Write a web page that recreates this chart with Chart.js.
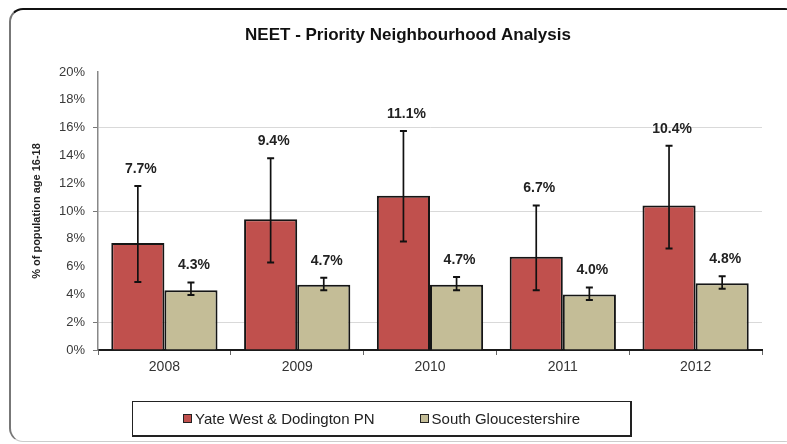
<!DOCTYPE html>
<html>
<head>
<meta charset="utf-8">
<script src="https://cdn.jsdelivr.net/npm/chart.js@4"></script>
<style>
  body { margin: 0; background: #fff; font-family: "Liberation Sans", Arial, sans-serif; }
  #wrap { position: relative; width: 787px; height: 444px; overflow: hidden; }
  #frame {
    position: absolute; left: 9px; top: 8px; width: 790px; height: 434px;
    border-top: 2px solid #111; border-left: 2px solid #777;
    border-bottom: 1px solid #ccc; border-radius: 14px; box-sizing: border-box;
  }
  #chart { position: absolute; left: 0; top: 0; }
  #legend {
    position: absolute; left: 132px; top: 401px; width: 500px; height: 36px;
    box-sizing: border-box; border: 1px solid #222; border-right-width: 2px; border-bottom-width: 2px;
    display: flex; justify-content: center; align-items: center; gap: 45px;
    font-size: 15px; color: #222;
  }
  .item { display: flex; align-items: center; }
  .swatch { width: 7px; height: 7px; border: 1px solid #222; margin-right: 3px; }
</style>
</head>
<body>
<div id="wrap">
  <div id="frame"></div>
  <canvas id="chart" width="787" height="444"></canvas>
  <div id="legend"></div>
</div>
<script>
const categories = ["2008", "2009", "2010", "2011", "2012"];
const seriesNames = ["Yate West & Dodington PN", "South Gloucestershire"];

const yateValues = [7.7, 9.4, 11.1, 6.7, 10.4];
const yateLower = [4.9, 6.3, 7.8, 4.3, 7.3];
const yateUpper = [11.8, 13.8, 15.75, 10.4, 14.7];

const southValues = [4.3, 4.7, 4.7, 4.0, 4.8];
const southLower = [3.95, 4.3, 4.3, 3.6, 4.4];
const southUpper = [4.85, 5.2, 5.25, 4.5, 5.3];

const yMin = 0;
const yMax = 20;
const yStep = 2;

// confidence intervals per dataset index
const lowerBounds = [yateLower, southLower];
const upperBounds = [yateUpper, southUpper];

const errorBars = {
  id: "errorBars",
  afterDatasetsDraw(chart) {
    const ctx = chart.ctx;
    const y = chart.scales.y;
    ctx.save();
    chart.data.datasets.forEach((ds, i) => {
      const meta = chart.getDatasetMeta(i);
      meta.data.forEach((bar, j) => {
        const top = y.getPixelForValue(upperBounds[i][j]);
        const bottom = y.getPixelForValue(lowerBounds[i][j]);
        ctx.strokeStyle = "#111";
        ctx.lineWidth = 1.7;
        ctx.beginPath();
        ctx.moveTo(bar.x, top);
        ctx.lineTo(bar.x, bottom);
        ctx.stroke();
        ctx.lineWidth = 2;
        ctx.beginPath();
        ctx.moveTo(bar.x - 3.5, top);
        ctx.lineTo(bar.x + 3.5, top);
        ctx.moveTo(bar.x - 3.5, bottom);
        ctx.lineTo(bar.x + 3.5, bottom);
        ctx.stroke();

        ctx.fillStyle = "#222";
        ctx.font = "bold 14px 'Liberation Sans', Arial, sans-serif";
        ctx.textAlign = "center";
        ctx.textBaseline = "middle";
        ctx.fillText(ds.data[j].toFixed(1) + "%", bar.x + 3, top - 17);
      });
    });
    ctx.restore();
  }
};

const gridValues = [2, 10, 16];

document.addEventListener("DOMContentLoaded", () => {
  const chart = new Chart(document.getElementById("chart"), {
    type: "bar",
    data: {
      labels: categories,
      datasets: [
        {
          label: seriesNames[0],
          data: yateValues,
          backgroundColor: "#C0504D",
          borderColor: "#151515",
          borderWidth: 2,
          categoryPercentage: 0.8,
          barPercentage: 1.0
        },
        {
          label: seriesNames[1],
          data: southValues,
          backgroundColor: "#C4BD97",
          borderColor: "#151515",
          borderWidth: 2,
          categoryPercentage: 0.8,
          barPercentage: 1.0
        }
      ]
    },
    options: {
      responsive: false,
      animation: false,
      layout: { padding: { left: 54, right: 25, top: 0, bottom: 64 } },
      plugins: {
        legend: { display: false },
        tooltip: { enabled: false },
        title: {
          display: true,
          text: "NEET - Priority Neighbourhood Analysis",
          color: "#111",
          font: { family: "'Liberation Sans', Arial, sans-serif", size: 17, weight: "bold" },
          padding: { top: 25, bottom: 26.6 }
        }
      },
      scales: {
        x: {
          afterFit: (scale) => { scale.height = 30; },
          grid: { drawOnChartArea: false, tickLength: 5, color: "#666" },
          border: { color: "#1a1a1a", width: 2 },
          ticks: {
            color: "#333",
            padding: 4,
            font: { family: "'Liberation Sans', Arial, sans-serif", size: 14 }
          }
        },
        y: {
          min: yMin,
          max: yMax,
          afterFit: (scale) => { scale.width = 44; },
          border: { color: "#888", width: 1.5 },
          grid: {
            tickLength: 5,
            color: (c) => gridValues.includes(c.tick.value) ? "#d9d9d9" : "rgba(0,0,0,0)",
            tickColor: (c) => (gridValues.includes(c.tick.value) || c.tick.value === 0) ? "#777" : "rgba(0,0,0,0)"
          },
          ticks: {
            stepSize: yStep,
            color: "#3a3a3a",
            padding: 8,
            font: { family: "'Liberation Sans', Arial, sans-serif", size: 13 },
            callback: (v) => v + "%"
          },
          title: {
            display: true,
            text: "% of population age 16-18",
            color: "#222",
            font: { family: "'Liberation Sans', Arial, sans-serif", size: 11, weight: "bold" },
            padding: { top: -23.6, bottom: 0 }
          }
        }
      }
    },
    plugins: [errorBars]
  });

  const legend = document.getElementById("legend");
  chart.data.datasets.forEach((ds) => {
    const item = document.createElement("div");
    item.className = "item";
    const sw = document.createElement("span");
    sw.className = "swatch";
    sw.style.background = ds.backgroundColor;
    const txt = document.createElement("span");
    txt.textContent = ds.label;
    item.appendChild(sw);
    item.appendChild(txt);
    legend.appendChild(item);
  });
});
</script>
</body>
</html>
